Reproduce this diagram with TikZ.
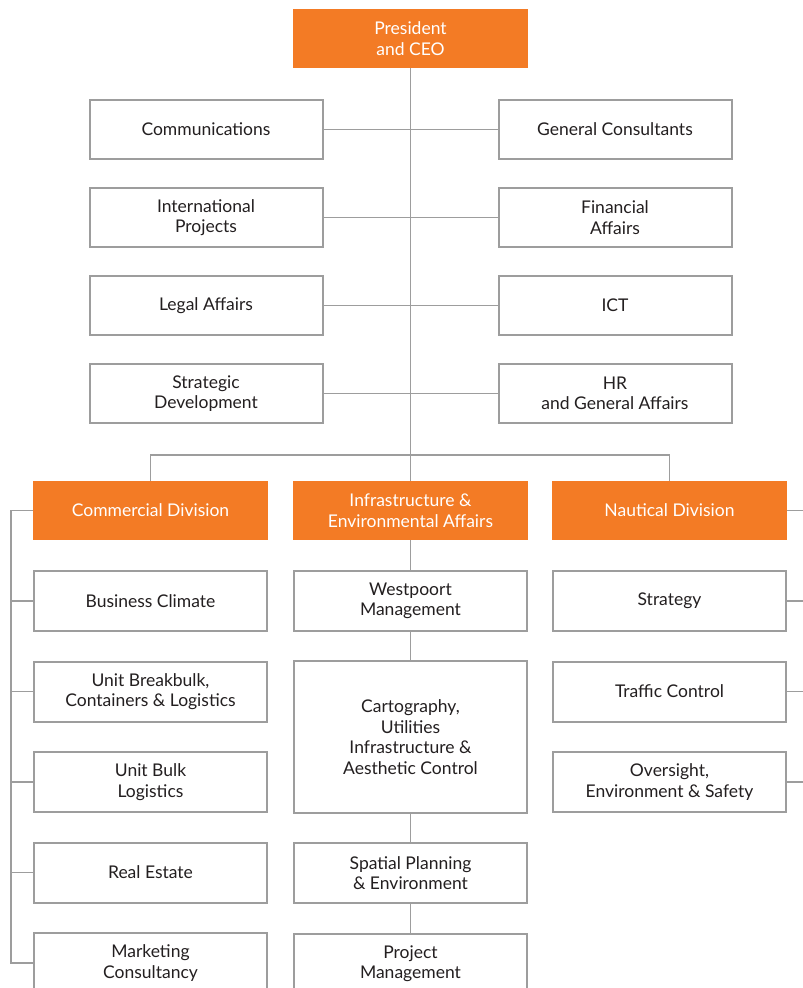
\documentclass[tikz,border=0pt]{standalone}
\usepackage{fontspec}
\setmainfont{Lato}
\usetikzlibrary{positioning}
\definecolor{orgorange}{HTML}{F37B25}
\definecolor{orggray}{HTML}{9D9D9D}
\definecolor{textdark}{HTML}{231F20}

\begin{document}
\begin{tikzpicture}[
    x=1pt, y=-1pt,
    node distance=29pt,
    lead/.style={fill=orgorange, text=white, minimum width=235pt, minimum height=59pt, align=center, inner sep=0pt, outer sep=0pt, font=\fontsize{17.5}{20.5}\selectfont},
    box/.style={draw=orggray, line width=2pt, fill=white, text=textdark, minimum width=233pt, minimum height=59pt, align=center, inner sep=0pt, outer sep=0pt, font=\fontsize{17.5}{20.5}\selectfont},
    unit/.style={box, minimum height=60pt},
    link/.style={draw=orggray, line width=1.8pt}
  ]
    \useasboundingbox (0,0) rectangle (803,988);
    \coordinate (bar) at (410.5,455);
    \coordinate (lrail) at (11,0);
    \coordinate (rrail) at (803,0);
    \node[lead] (ceo) at (410.5,38.5) {President\\and CEO};
    % staff
    \node[box] (comm) at (206,129.5) {Communications};
    \node[box,below=of comm] (intl) {International\\Projects};
    \node[box,below=of intl] (legal) {Legal Affairs};
    \node[box,below=of legal] (strdev) {Strategic\\Development};
    \node[box] (cons) at (615,129.5) {General Consultants};
    \node[box,below=of cons] (fin) {Financial\\Affairs};
    \node[box,below=of fin] (ict) {ICT};
    \node[box,below=of ict] (hr) {HR\\and General Affairs};
    \draw[link] (ceo.south) -- (bar);
    \foreach \l/\r in {comm/cons,intl/fin,legal/ict,strdev/hr}
      \draw[link] (\l) -- (\r);
    % divisions
    \node[lead] (comdiv) at (150.5,510.5) {Commercial Division};
    \node[lead] (infra) at (410.5,510.5) {Infrastructure \&\\Environmental Affairs};
    \node[lead] (naut) at (669.5,510.5) {Nautical Division};
    \draw[link] (comdiv.north) |- (bar) -| (naut.north);
    \draw[link] (bar) -- (infra.north);
    % commercial
    \node[unit,below=31pt of comdiv] (biz) {Business Climate};
    \node[unit,below=30.5pt of biz] (brk) {Unit Breakbulk,\\Containers \& Logistics};
    \node[unit,below=30.5pt of brk] (bulk) {Unit Bulk\\Logistics};
    \node[unit,below=30.5pt of bulk] (estate) {Real Estate};
    \node[unit,below=30.5pt of estate] (mkt) {Marketing\\Consultancy};
    \draw[link] (comdiv.west) -| (lrail |- comdiv) |- (mkt.west);
    \foreach \n in {biz,brk,bulk,estate}
      \draw[link] (\n.west) -- (\n.west -| lrail);
    % infrastructure
    \node[unit,below=31pt of infra] (west) {Westpoort\\Management};
    \node[unit,minimum height=152pt,below=30pt of west] (carto) {Cartography,\\Utilities\\Infrastructure \&\\Aesthetic Control};
    \node[unit,below=30pt of carto] (spat) {Spatial Planning\\\& Environment};
    \node[unit,below=30.5pt of spat] (proj) {Project\\Management};
    \draw[link] (infra) -- (west);
    \draw[link] (west) -- (carto);
    \draw[link] (carto) -- (spat);
    \draw[link] (spat) -- (proj);
    % nautical
    \node[unit,below=31pt of naut] (strat) {Strategy};
    \node[unit,below=30.5pt of strat] (traffic) {Traffic Control};
    \node[unit,below=30.5pt of traffic] (oversight) {Oversight,\\Environment \& Safety};
    \foreach \n in {naut,strat,traffic,oversight}
      \draw[link] (\n.east) -- (\n.east -| rrail);
  \end{tikzpicture}
\end{document}
